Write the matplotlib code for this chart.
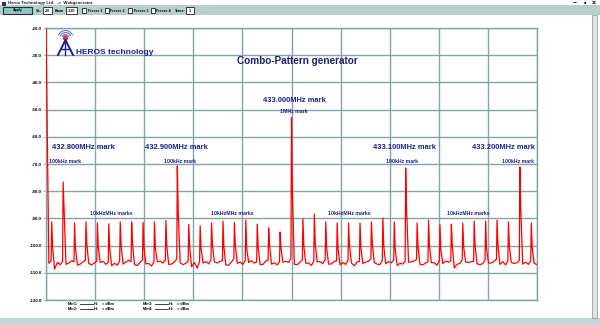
import numpy as np
import matplotlib.pyplot as plt
from matplotlib.patches import Rectangle, Arc, Circle

plt.rcParams['font.family'] = ['Liberation Sans', 'DejaVu Sans']

# spectrum around 433.000 MHz, offsets in kHz, levels in dBm
span_khz = (-215.0, 215.0)
grid_step = 2.5

# trace floor, one row per 10 kHz: offsets 10m-5, 10m-2.5, 10m, 10m+2.5  (m = -21 .. 21)
floor_rows = [
    [-20.0, -106.5, -105.5, -108.6],
    [-106.2, -107.0, -105.8, -106.9],
    [-106.4, -105.6, -106.0, -107.2],
    [-106.8, -105.9, -105.4, -106.6],
    [-107.1, -106.3, -105.7, -106.2],
    [-105.8, -106.9, -106.1, -107.4],
    [-106.5, -107.2, -105.6, -106.8],
    [-106.0, -105.4, -105.9, -107.0],
    [-107.3, -106.1, -105.2, -106.7],
    [-106.6, -107.5, -106.0, -105.9],
    [-105.7, -106.4, -105.3, -106.9],
    [-106.8, -106.0, -104.9, -106.3],
    [-107.0, -106.5, -105.6, -107.8],
    [-106.2, -108.3, -105.8, -106.4],
    [-105.9, -106.7, -105.1, -106.0],
    [-106.4, -105.8, -105.5, -107.1],
    [-107.2, -106.0, -104.8, -106.5],
    [-106.1, -106.9, -105.3, -106.2],
    [-105.6, -106.4, -106.0, -107.0],
    [-106.9, -105.7, -105.4, -106.8],
    [-106.3, -107.1, -105.9, -106.1],
    [-105.8, -106.2, -104.6, -106.9],
    [-107.0, -106.1, -105.2, -106.5],
    [-106.4, -107.3, -105.7, -106.0],
    [-105.9, -106.6, -105.0, -106.8],
    [-106.7, -105.8, -105.6, -107.1],
    [-106.2, -106.9, -105.3, -106.4],
    [-107.4, -106.0, -105.8, -106.6],
    [-106.1, -105.7, -104.9, -106.2],
    [-106.8, -107.0, -105.5, -106.7],
    [-105.9, -106.3, -105.4, -107.3],
    [-106.5, -106.8, -105.7, -106.1],
    [-106.0, -105.6, -105.1, -106.9],
    [-107.1, -106.4, -105.9, -106.3],
    [-106.3, -107.2, -105.4, -106.6],
    [-105.7, -106.1, -105.6, -108.2],
    [-106.9, -106.5, -105.2, -106.0],
    [-106.2, -105.9, -105.8, -106.7],
    [-107.0, -106.6, -105.3, -106.4],
    [-106.4, -105.8, -105.0, -106.9],
    [-105.9, -107.1, -105.6, -106.2],
    [-106.6, -106.3, -105.4, -106.8],
    [-106.1, -106.9, -105.7, -106.5],
]
floor_last = -107.0  # +215 kHz

# comb lines every 10 kHz, -210 .. +210 kHz
comb_khz = list(range(-210, 211, 10))
comb_top = [
    -91.3, -76.6, -91.7, -91.3, -91.7, -92.0, -91.3, -91.3, -91.5, -91.2, -90.8,
    -70.7, -92.2, -92.8, -91.7, -91.0, -91.5, -90.6, -92.1, -93.5, -95.0,
    -53.0,
    -90.2, -88.4, -91.3, -91.7, -91.7, -91.7, -91.3, -89.9, -91.3,
    -71.5, -91.7, -90.6, -92.4, -92.1, -91.7, -91.0, -91.0, -90.6, -91.3,
    -71.1, -91.7,
]
comb_shoulder = [
    -100.5, -86.0, -101.0, -99.8, -100.6, -101.2, -100.0, -99.5, -100.8, -101.0, -100.2,
    -88.0, -100.4, -101.1, -99.9, -100.6, -100.0, -101.3, -100.5, -99.8, -101.0,
    -81.0,
    -100.2, -99.6, -100.9, -101.2, -100.0, -100.7, -99.5, -100.3, -101.0,
    -87.0, -100.5, -100.1, -101.4, -99.8, -100.6, -100.2, -101.0, -99.7, -100.4,
    -86.5, -100.8,
]

y_top, y_bottom = -20, -120
y_ticks = list(range(-20, -121, -10))

# marker captions: (offset kHz of caption, big caption, offset of small caption, small caption)
big_marks = [(-182, '432.800MHz mark', -198, '100kHz mark'),
             (-101, '432.900MHz mark', -98, '100kHz mark'),
             (99, '433.100MHz mark', 97, '100kHz mark'),
             (186, '433.200MHz mark', 198, '100kHz mark')]
fine_marks_khz = [-157.5, -52, 51, 154.5]

# --- build the trace -------------------------------------------------------
floor = [v for row in floor_rows for v in row] + [floor_last]
grid = span_khz[0] + grid_step * np.arange(len(floor))
pts = {}
for f, v in zip(grid, floor):
    pts[round(f, 2)] = v
for f, top, sh in zip(comb_khz, comb_top, comb_shoulder):
    base = pts.pop(float(f))
    pts[f - 0.5] = base
    pts[float(f)] = top
    pts[f + 0.8] = sh
xs = np.array(sorted(pts))
ys = np.array([pts[k] for k in xs])

W, H = 600, 325
fig = plt.figure(figsize=(6.0, 3.25), dpi=100)
fig.patch.set_facecolor('white')


def fx(x):
    return x / W


def fy(y):
    return 1 - y / H


# window chrome
fig.patches.append(Rectangle((0, fy(15)), 1, (15 - 5) / H, transform=fig.transFigure,
                             facecolor='#b7cfcc', edgecolor='none', zorder=0))
fig.patches.append(Rectangle((0, 0), 1, 7 / H, transform=fig.transFigure,
                             facecolor='#c3d6d6', edgecolor='none', zorder=0))
fig.patches.append(Rectangle((fx(592), fy(318)), 5 / W, 303 / H, transform=fig.transFigure,
                             facecolor='#dfe3e3', edgecolor='#9aa0a0', lw=0.6, zorder=0))
fig.patches.append(Rectangle((fx(2), fy(6)), 4 / W, 4 / H, transform=fig.transFigure,
                             facecolor='#303060', edgecolor='none'))
fig.text(fx(8), fy(3), 'Heros Technology Ltd.  ->  Wobgenerator', fontsize=3.2,
         fontweight='bold', va='center', color='#202020')
for x, s in [(575, '\u2013'), (585, '\u25aa'), (594, '\u00d7')]:
    fig.text(fx(x), fy(3), s, fontsize=5, fontweight='bold', ha='center', va='center')

# toolbar widgets
tb = dict(fontsize=2.6, va='center', fontweight='bold')
fig.patches.append(Rectangle((fx(3), fy(14)), 29 / W, 7 / H, transform=fig.transFigure,
                             facecolor='#8fc7c0', edgecolor='#203040', lw=0.8))
fig.text(fx(17.5), fy(10.5), 'Apply', ha='center', **tb)
fig.text(fx(36), fy(10.5), 'Vb:', **tb)
fig.patches.append(Rectangle((fx(43), fy(14)), 9 / W, 7 / H, transform=fig.transFigure,
                             facecolor='white', edgecolor='#202020', lw=0.6))
fig.text(fx(47.5), fy(10.5), '-20', ha='center', **tb)
fig.text(fx(54.5), fy(10.5), 'Btom', **tb)
fig.patches.append(Rectangle((fx(66), fy(14)), 11 / W, 7 / H, transform=fig.transFigure,
                             facecolor='white', edgecolor='#202020', lw=0.6))
fig.text(fx(71.5), fy(10.5), '-120', ha='center', **tb)
for i, x in enumerate([82, 105, 128, 151]):
    fig.patches.append(Rectangle((fx(x), fy(13)), 4 / W, 5 / H, transform=fig.transFigure,
                                 facecolor='white', edgecolor='#202020', lw=0.6))
    fig.text(fx(x + 5.5), fy(10.5), 'Freeze %d' % (i + 1), **tb)
fig.text(fx(175), fy(10.5), 'Trace:', **tb)
fig.patches.append(Rectangle((fx(186), fy(14)), 8 / W, 7 / H, transform=fig.transFigure,
                             facecolor='white', edgecolor='#202020', lw=0.6))
fig.text(fx(190), fy(10.5), '1', ha='center', **tb)

# --- spectrum axes -----------------------------------------------------------
ax = fig.add_axes([fx(46), fy(300), (537 - 46) / W, (300 - 28) / H])
ax.set_xlim(*span_khz)
ax.set_ylim(y_bottom, y_top)
grid_col = '#85a3a8'
ax.set_xticks(np.linspace(span_khz[0], span_khz[1], 11))
ax.set_yticks(y_ticks)
ax.set_xticklabels([])
ax.set_yticklabels(['%.1f' % v for v in y_ticks], fontsize=3.2, fontweight='bold')
ax.tick_params(axis='y', length=2, color='#b0c8cc', pad=1)
ax.tick_params(axis='x', length=0)
ax.grid(True, color=grid_col, lw=1.0)
ax.set_axisbelow(True)
for s in ax.spines.values():
    s.set_color(grid_col)
    s.set_linewidth(1.0)

ax.plot(xs, ys, color='#ff0000', lw=0.9, zorder=3)

navy = '#1f1f8f'
ax.text(2.5, -46.5, '433.000MHz mark', fontsize=5.4, fontweight='bold', color=navy,
        ha='center', va='center')
ax.text(2.0, -50.6, '1MHz mark', fontsize=3.7, fontweight='bold', color=navy,
        ha='center', va='center')
for kb, big, ks, small in big_marks:
    ax.text(kb, -64.1, big, fontsize=5.4, fontweight='bold',
            color=navy, ha='center', va='center')
    ax.text(ks, -69.0, small, fontsize=3.7, fontweight='bold', color=navy,
            ha='center', va='center')
for k in fine_marks_khz:
    ax.text(k, -88.2, '10kHzMHz marks', fontsize=3.7, fontweight='bold', color=navy,
            ha='center', va='center')

fig.text(fx(297), fy(61), 'Combo-Pattern generator', fontsize=7.2, fontweight='bold',
         color='#202070', ha='center', va='center')
fig.text(fx(76), fy(52.5), 'HEROS technology', fontsize=6.0, fontweight='bold',
         color='#1f1f8f', va='center')

# logo: small mast with radiating arcs
lg = fig.add_axes([fx(55), fy(57), 21 / W, 27 / H])
lg.set_xlim(0, 21)
lg.set_ylim(27, 0)
lg.axis('off')
for r in [3.5, 5.5, 7.5]:
    lg.add_patch(Arc((10.5, 8), 2 * r, 2 * r, theta1=200, theta2=340,
                     color='#7070d0', lw=0.8))
lg.add_patch(Circle((10.5, 8), 2.0, color='#e83030'))
lg.plot([10.5, 3], [10, 25], color='#1f1f8f', lw=1.4)
lg.plot([10.5, 18], [10, 25], color='#1f1f8f', lw=1.4)
lg.plot([10.5, 10.5], [10, 25], color='#1f1f8f', lw=1.0)
lg.plot([6, 15], [19, 19], color='#1f1f8f', lw=1.0)

# marker readout below the plot
for col_x, names in [(68, ('Mkr1:', 'Mkr2:')), (143, ('Mkr3:', 'Mkr4:'))]:
    for row_y, name in zip((304, 309), names):
        fig.text(fx(col_x), fy(row_y), name, fontsize=2.8, fontweight='bold', va='center')
        fig.lines.append(plt.Line2D([fx(col_x + 12), fx(col_x + 25)], [fy(row_y), fy(row_y)],
                                    transform=fig.transFigure, color='#202020', lw=0.6))
        fig.text(fx(col_x + 26), fy(row_y), 'Hz', fontsize=2.8, fontweight='bold', va='center')
        fig.text(fx(col_x + 34), fy(row_y), '= dBm', fontsize=2.8, fontweight='bold',
                 va='center')

fig.savefig('out.png', dpi=100)
